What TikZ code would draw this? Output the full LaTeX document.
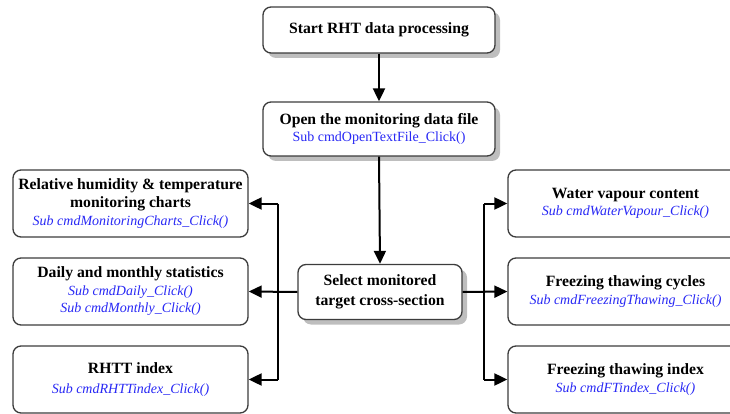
\documentclass[tikz,border=0pt]{standalone}
\usepackage{fontspec}
\setmainfont{Liberation Serif}
\usetikzlibrary{arrows.meta,shadows}
\definecolor{codeblue}{RGB}{40,40,245}
\definecolor{boxline}{RGB}{60,60,60}
\definecolor{shadowgray}{RGB}{190,190,190}
\tikzset{
  box/.style={draw=boxline, line width=1.3pt, rounded corners=8pt, fill=white,
    inner sep=0pt, align=center, font=\fontsize{15.7}{18.5}\selectfont\bfseries},
  shbox/.style={box, drop shadow={shadow xshift=5pt, shadow yshift=-5pt, fill=shadowgray, opacity=1}},
  arr/.style={line width=2pt, -{Triangle[length=13pt,width=12pt]}},
  bus/.style={line width=2pt},
}
\newcommand{\code}[1]{{\fontsize{14}{16}\selectfont\mdseries\color{codeblue}#1}}
\newcommand{\icode}[1]{{\fontsize{14}{16}\selectfont\mdseries\itshape\color{codeblue}#1}}
\begin{document}
\begin{tikzpicture}[x=1pt,y=-1pt]
\useasboundingbox (0,0) rectangle (730,414);
\clip (0,0) rectangle (730,414);
\node[shbox, minimum width=232pt, minimum height=46pt] (start) at (379,30) {Start RHT data processing};
\node[shbox, minimum width=232pt, minimum height=54pt] (open) at (379,129) {Open the monitoring data file\\[-1pt] \code{Sub cmdOpenTextFile\_Click()}};
\node[shbox, minimum width=164pt, minimum height=55pt] (select) at (380,292) {Select monitored\\[1pt] target cross-section};

\node[box, minimum width=235pt, minimum height=67pt] (l1) at (130.5,203.5) {Relative humidity \& temperature\\[0pt] monitoring charts\\[-1pt] \icode{Sub cmdMonitoringCharts\_Click()}};
\node[box, minimum width=235pt, minimum height=67pt] (l2) at (130.5,291.5) {Daily and monthly statistics\\[-1pt] \icode{Sub cmdDaily\_Click()}\\[-1pt] \icode{Sub cmdMonthly\_Click()}};
\node[box, minimum width=235pt, minimum height=67pt] (l3) at (130.5,379.5) {RHTT index\\[1pt] \icode{Sub cmdRHTTindex\_Click()}};

\node[box, minimum width=235pt, minimum height=67pt] (r1) at (625.5,203.5) {Water vapour content\\[-1pt] \icode{Sub cmdWaterVapour\_Click()}};
\node[box, minimum width=235pt, minimum height=67pt] (r2) at (625.5,291.5) {Freezing thawing cycles\\[-1pt] \icode{Sub cmdFreezingThawing\_Click()}};
\node[box, minimum width=235pt, minimum height=67pt] (r3) at (625.5,379.5) {Freezing thawing index\\[-1pt] \icode{Sub cmdFTindex\_Click()}};

\draw[arr] (start.south) -- (open.north);
\draw[arr] (open.south) -- (select.north);

\coordinate (lb) at (278,292);
\coordinate (rb) at (484,292);
\draw[arr] (select.west) -- (l2.east);
\draw[arr] (select.east) -- (r2.west);
\draw[bus] (lb |- l1.east) -- (lb |- l3.east);
\draw[bus] (rb |- r1.west) -- (rb |- r3.west);
\draw[arr] (lb |- l1.east) -- (l1.east);
\draw[arr] (lb |- l3.east) -- (l3.east);
\draw[arr] (rb |- r1.west) -- (r1.west);
\draw[arr] (rb |- r3.west) -- (r3.west);
\end{tikzpicture}
\end{document}
